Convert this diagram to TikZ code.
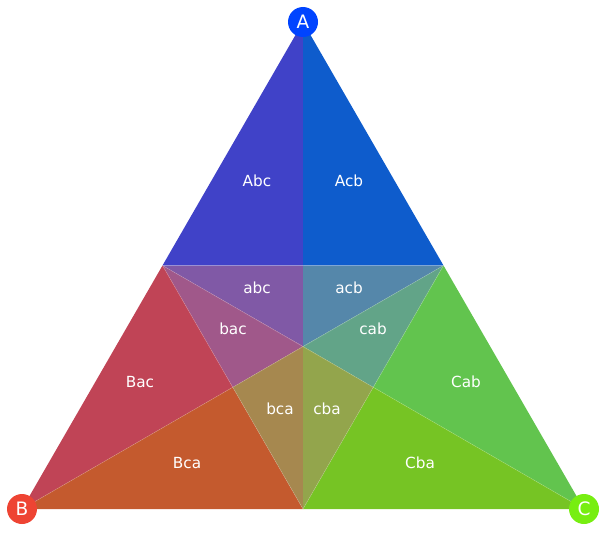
\documentclass[tikz,border=0pt]{standalone}
\usepackage{fontspec}
\setmainfont{DejaVu Sans}
\definecolor{cAbc}{HTML}{4042C8}
\definecolor{cAcb}{HTML}{0E5CCC}
\definecolor{cabc}{HTML}{8059A6}
\definecolor{cacb}{HTML}{5587AA}
\definecolor{cbac}{HTML}{A0588A}
\definecolor{ccab}{HTML}{62A488}
\definecolor{cBac}{HTML}{C04456}
\definecolor{cBca}{HTML}{C45A2E}
\definecolor{cbca}{HTML}{A6884F}
\definecolor{ccba}{HTML}{93A54C}
\definecolor{cCab}{HTML}{62C44E}
\definecolor{cCba}{HTML}{76C424}
\definecolor{vA}{HTML}{0044FF}
\definecolor{vB}{HTML}{EE4433}
\definecolor{vC}{HTML}{77EE11}
\tikzset{
  lbl/.style={text=white, font=\fontsize{15.3}{18}\selectfont, inner sep=0pt},
  vtx/.style={circle, minimum size=30pt, inner sep=0pt, text=white, font=\fontsize{18.5}{20}\selectfont},
  seam/.style={draw=white, draw opacity=0.2, line width=0.6pt},
}
\begin{document}
\begin{tikzpicture}[x=1pt,y=-1pt]
\useasboundingbox (0,0) rectangle (608,535);
\coordinate (A) at (303,22);
\coordinate (B) at (22,509);
\coordinate (C) at (584,509);
\coordinate (Mab) at (162.5,265.5);
\coordinate (Mac) at (443.5,265.5);
\coordinate (Mbc) at (303,509);
\coordinate (P) at (303,265.5);
\coordinate (G) at (303,346.3);
\coordinate (R1) at (232.75,387.25);
\coordinate (R2) at (373.25,387.25);
% regions
\fill[cAbc] (A) -- (Mab) -- (P) -- cycle;
\fill[cAcb] (A) -- (P) -- (Mac) -- cycle;
\fill[cabc] (Mab) -- (P) -- (G) -- cycle;
\fill[cacb] (P) -- (Mac) -- (G) -- cycle;
\fill[cbac] (Mab) -- (G) -- (R1) -- cycle;
\fill[ccab] (G) -- (Mac) -- (R2) -- cycle;
\fill[cBac] (Mab) -- (R1) -- (B) -- cycle;
\fill[cCab] (Mac) -- (R2) -- (C) -- cycle;
\fill[cBca] (B) -- (R1) -- (Mbc) -- cycle;
\fill[cCba] (C) -- (R2) -- (Mbc) -- cycle;
\fill[cbca] (R1) -- (G) -- (Mbc) -- cycle;
\fill[ccba] (G) -- (R2) -- (Mbc) -- cycle;
% faint seams
\path[seam] (Mab) -- (Mac);
\path[seam] (Mab) -- (C);
\path[seam] (Mac) -- (B);
\path[seam] (Mab) -- (Mbc);
\path[seam] (Mac) -- (Mbc);
% labels
\node[lbl] (lAbc) at (257,181) {Abc};
\node[lbl] (lAcb) at (349,181) {Acb};
\node[lbl] (labc) at (257,288) {abc};
\node[lbl] (lacb) at (349,288) {acb};
\node[lbl] (lbac) at (233,329) {bac};
\node[lbl] (lcab) at (373,329) {cab};
\node[lbl] (lBac) at (140,382) {Bac};
\node[lbl] (lCab) at (466,382) {Cab};
\node[lbl] (lbca) at (280,409) {bca};
\node[lbl] (lcba) at (327,409) {cba};
\node[lbl] (lBca) at (187,463) {Bca};
\node[lbl] (lCba) at (420,463) {Cba};
% vertices
\node[vtx, fill=vA] (nA) at (A) {A};
\node[vtx, fill=vB] (nB) at (B) {B};
\node[vtx, fill=vC] (nC) at (C) {C};
\end{tikzpicture}
\end{document}
